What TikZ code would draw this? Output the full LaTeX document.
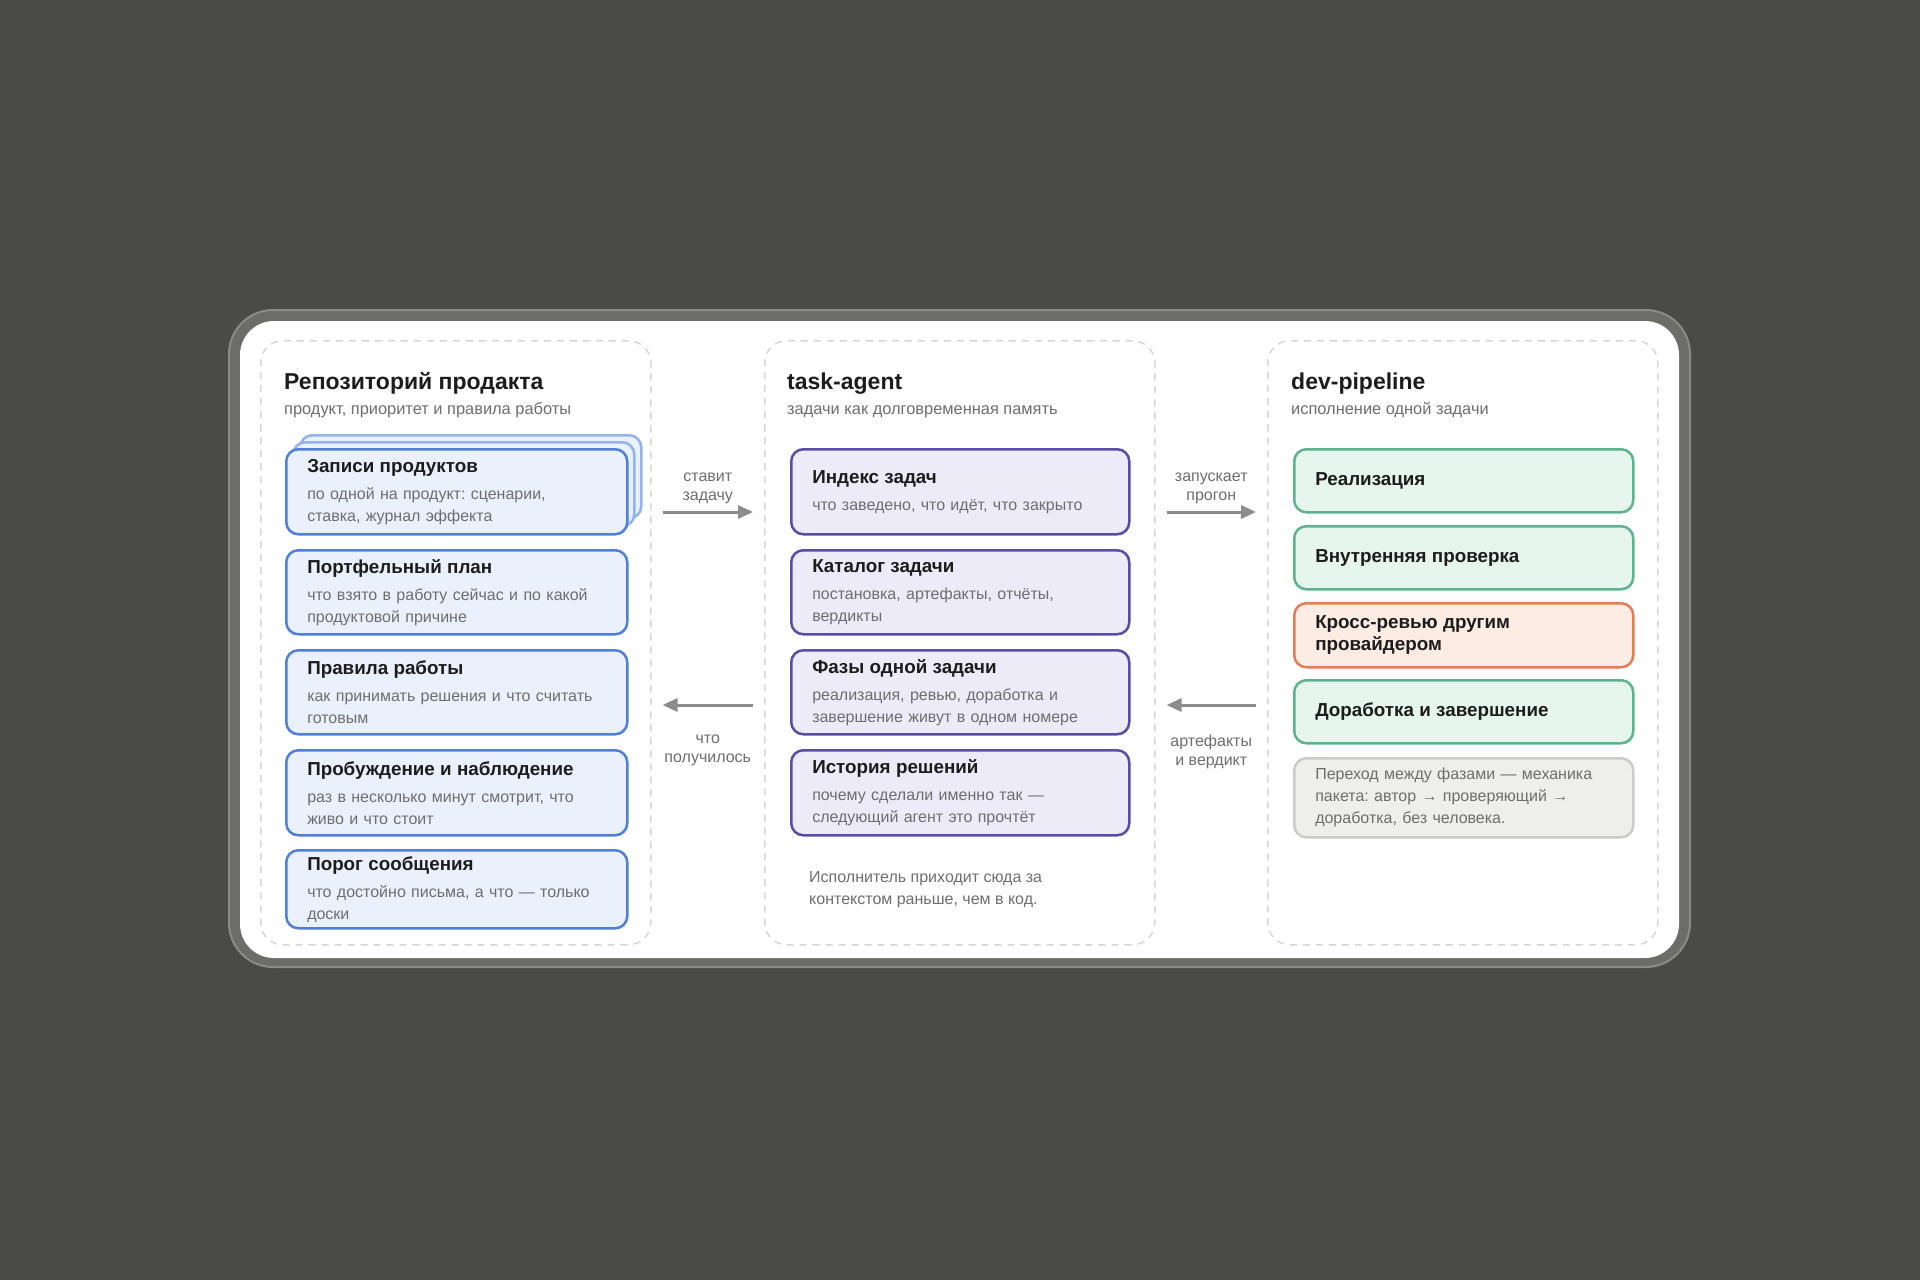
\documentclass[tikz,border=0pt]{standalone}
\usepackage{fontspec}
\setmainfont{Liberation Sans}
\usetikzlibrary{arrows.meta}
\frenchspacing

\definecolor{bgdark}{HTML}{4A4B46}
\definecolor{bezel}{HTML}{6C6D68}
\definecolor{bezelrim}{HTML}{8A8B86}
\definecolor{ink}{HTML}{1C1C1C}
\definecolor{descgray}{HTML}{6E6E6E}
\definecolor{dashg}{HTML}{D6D6D6}
\definecolor{arrowg}{HTML}{8C8C8C}
\definecolor{blueb}{HTML}{4F7FD6}
\definecolor{bluef}{HTML}{EAF1FC}
\definecolor{bluebk}{HTML}{93B3EC}
\definecolor{purpb}{HTML}{5B4DA6}
\definecolor{purpf}{HTML}{EDEBF8}
\definecolor{greenb}{HTML}{5EB38F}
\definecolor{greenf}{HTML}{E6F5EE}
\definecolor{orangeb}{HTML}{E27D55}
\definecolor{orangef}{HTML}{FCECE4}
\definecolor{noteb}{HTML}{CCCCC9}
\definecolor{notef}{HTML}{EEEEEC}

\newcommand\ttl{\bfseries\fontsize{18.8}{23}\selectfont\color{ink}}
\newcommand\dsc{\fontsize{16}{22}\selectfont}

\begin{document}
\begin{tikzpicture}[x=1pt, y=-1pt]
\tikzset{card/.style={draw, line width=2.5pt, rounded corners=12pt, anchor=north west,
    minimum width=341pt, minimum height=85pt, text width=299pt, inner xsep=21pt,
    inner ysep=4pt, align=left, font=\dsc, text=descgray},
  lbox/.style={card, draw=blueb, fill=bluef},
  pbox/.style={card, draw=purpb, fill=purpf, minimum width=338pt, text width=296pt},
  gbox/.style={card, draw=greenb, fill=greenf, minimum width=339pt, text width=297pt, minimum height=63pt},
  obox/.style={gbox, draw=orangeb, fill=orangef},
  nbox/.style={gbox, draw=noteb, fill=notef, minimum height=79pt},
  panel/.style={draw=dashg, line width=1.5pt, dash pattern=on 7pt off 6pt, rounded corners=22pt,
    anchor=north west, minimum width=390pt, minimum height=604pt},
  head/.style={anchor=base west, font=\bfseries\fontsize{23}{27}\selectfont, text=ink, inner sep=0pt},
  sub/.style={anchor=base west, font=\fontsize{16.4}{20}\selectfont, text=descgray, inner sep=0pt},
  lbl/.style={align=center, font=\fontsize{16}{19}\selectfont, text=descgray, inner sep=0pt},
  arr/.style={draw=arrowg, line width=3pt, -{Triangle[length=15pt, width=13pt]}}}
\useasboundingbox (0,0) rectangle (1920,1280);
\fill[bgdark] (0,0) rectangle (1920,1280);
\fill[bezel, draw=bezelrim, line width=2pt, rounded corners=44pt] (229,310) rectangle (1690,967);
\fill[white, rounded corners=34pt] (240,321) rectangle (1679,958);

% panels
\node[panel] (P1) at (260,340) {};
\node[panel] (P2) at (764,340) {};
\node[panel] (P3) at (1267,340) {};

\node[head] (H1) at (284,389) {Репозиторий продакта};
\node[sub] (S1) at (284,414) {продукт, приоритет и правила работы};
\node[head] (H2) at (787,389) {task-agent};
\node[sub] (S2) at (787,414) {задачи как долговременная память};
\node[head] (H3) at (1291,389) {dev-pipeline};
\node[sub] (S3) at (1291,414) {исполнение одной задачи};

% left column
\node[lbox, draw=bluebk, minimum height=83pt] (L1c) at (299,434) {};
\node[lbox, draw=bluebk, minimum height=84pt] (L1b) at (292,441) {};
\node[lbox] (L1) at (285,448) {{\ttl Записи продуктов}\\[5pt]по одной на продукт: сценарии,\\ставка, журнал эффекта};
\node[lbox, minimum height=84pt] (L2) at (285,549) {{\ttl Портфельный план}\\[5pt]что взято в работу сейчас и по какой\\продуктовой причине};
\node[lbox, minimum height=84pt] (L3) at (285,649) {{\ttl Правила работы}\\[5pt]как принимать решения и что считать\\готовым};
\node[lbox] (L4) at (285,749) {{\ttl Пробуждение и наблюдение}\\[5pt]раз в несколько минут смотрит, что\\живо и что стоит};
\node[lbox, minimum height=78pt] (L5) at (285,849) {{\ttl Порог сообщения}\\[5pt]что достойно письма, а что — только\\доски};

% middle column
\node[pbox] (M1) at (790,448) {{\ttl Индекс задач}\\[5pt]что заведено, что идёт, что закрыто};
\node[pbox, minimum height=84pt] (M2) at (790,549) {{\ttl Каталог задачи}\\[5pt]постановка, артефакты, отчёты,\\вердикты};
\node[pbox, minimum height=84pt] (M3) at (790,649) {{\ttl Фазы одной задачи}\\[5pt]реализация, ревью, доработка и\\завершение живут в одном номере};
\node[pbox] (M4) at (790,749) {{\ttl История решений}\\[5pt]почему сделали именно так —\\следующий агент это прочтёт};
\node[anchor=north west, align=left, font=\dsc, text=descgray, inner sep=0pt] (MN) at (809,871) {Исполнитель приходит сюда за\\контекстом раньше, чем в код.};

% right column
\node[gbox] (R1) at (1293,448) {{\ttl Реализация}};
\node[gbox] (R2) at (1293,525) {{\ttl Внутренняя проверка}};
\node[obox, minimum height=64pt] (R3) at (1293,602) {{\ttl Кросс-ревью другим\\провайдером}};
\node[gbox] (R4) at (1293,679) {{\ttl Доработка и завершение}};
\node[nbox] (RN) at (1293,757) {Переход между фазами — механика\\пакета: автор → проверяющий →\\доработка, без человека.};

% arrows
\draw[arr] ([shift={(11,172)}]P1.north east) -- ([shift={(-11,172)}]P2.north west)
  node[lbl, midway, above=7pt] {ставит\\задачу};
\draw[arr] ([shift={(-11,365)}]P2.north west) -- ([shift={(11,365)}]P1.north east)
  node[lbl, midway, below=28pt] {что\\получилось};
\draw[arr] ([shift={(11,172)}]P2.north east) -- ([shift={(-11,172)}]P3.north west)
  node[lbl, midway, above=7pt] {запускает\\прогон};
\draw[arr] ([shift={(-11,365)}]P3.north west) -- ([shift={(11,365)}]P2.north east)
  node[lbl, midway, below=28pt] {артефакты\\и вердикт};
\end{tikzpicture}
\end{document}
